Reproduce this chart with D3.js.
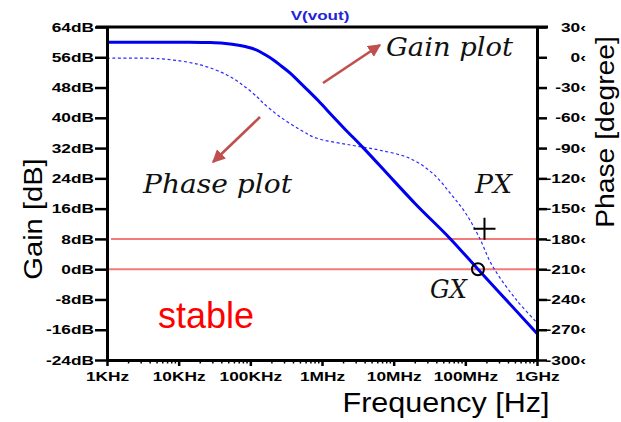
<!DOCTYPE html>
<html>
<head>
<meta charset="utf-8">
<script src="https://cdn.jsdelivr.net/npm/d3@7"></script>
<style>
  body { margin: 0; background: #fff; }
  svg { display: block; }
  .tick text { font-family: "Liberation Sans", Arial, sans-serif; font-weight: bold; font-size: 13px; fill: #000; }
  .note { font-family: "DejaVu Serif", "Liberation Serif", serif; font-style: italic; fill: #111; }
</style>
</head>
<body>
<script>
// gain curve (Hz, dB)
var gainFreq = [1e3, 4e3, 1.4e4, 2.5e4, 4.2e4, 7.2e4, 9.5e4, 1.23e5, 1.6e5, 2.1e5, 2.7e5, 3.6e5, 4.7e5, 6.1e5, 8.9e5, 1.4e6, 2e6, 3.8e6, 1e7, 2e7, 6.2e7, 1.5e8, 3e8, 1e9];
var gainDb   = [60, 60, 60, 59.9, 59.7, 59.1, 58.6, 57.9, 56.7, 55.3, 53.7, 51.8, 49.7, 47.6, 44.5, 40.5, 37.4, 32, 23.4, 17.3, 8, 0, -6.2, -17];

// phase curve (Hz, degree)
var phaseFreq = [1e3, 5.5e3, 2e4, 4.7e4, 8e4, 1.23e5, 1.52e5, 2.6e5, 5e5, 8.3e5, 2.5e6, 6.3e6, 1.66e7, 3.5e7, 6.2e7, 1e8, 1.55e8, 2.4e8, 5.1e8, 1e9];
var phaseDeg  = [-1, -1.5, -7.5, -17.5, -28, -39, -45.5, -59, -72, -80, -87, -92, -100, -115, -135, -154, -178, -207, -240, -263];

var freqTicks  = [1e3, 1e4, 1e5, 1e6, 1e7, 1e8, 1e9];
var freqLabels = ["1KHz", "10KHz", "100KHz", "1MHz", "10MHz", "100MHz", "1GHz"];
var gainTicks  = [64, 56, 48, 40, 32, 24, 16, 8, 0, -8, -16, -24];
var phaseTicks = [30, 0, -30, -60, -90, -120, -150, -180, -210, -240, -270, -300];
var limitLines = [8, 0];          // red reference lines, dB
var gxPoint = [1.5e8, 0];         // circle marker (Hz, dB)
var pxPoint = [1.85e8, -170];     // plus marker (Hz, degree)

var W = 621, H = 422;
var svg = d3.select("body").append("svg").attr("width", W).attr("height", H);

var x = d3.scaleLog().domain([1e3, 1e9]).range([107, 537]);
var yG = d3.scaleLinear().domain([-24, 64]).range([360, 27]);
var yP = d3.scaleLinear().domain([-300, 30]).range([360, 27]);

function stretch(sel, k) {
  sel.each(function () {
    var w = this.getComputedTextLength();
    d3.select(this).attr("textLength", w * k).attr("lengthAdjust", "spacingAndGlyphs");
  });
}

// red reference lines
svg.selectAll(".lim").data(limitLines).enter().append("line")
  .attr("x1", function (d) { return d == 0 ? x(1e3) : x(1e3) + 4; })
  .attr("x2", x(1e9))
  .attr("y1", function (d) { return yG(d); })
  .attr("y2", function (d) { return yG(d); })
  .attr("stroke", "#f47a7a").attr("stroke-width", 2);

// phase (thin dashed)
var phaseData = phaseFreq.map(function (f, i) { return [f, phaseDeg[i]]; });
svg.append("path").datum(phaseData)
  .attr("d", d3.line().x(function (d) { return x(d[0]); }).y(function (d) { return yP(d[1]); }).curve(d3.curveCatmullRom.alpha(0.5)))
  .attr("fill", "none").attr("stroke", "#2a2aff").attr("stroke-width", 1.2).attr("stroke-dasharray", "3,2.5");

// gain (thick)
var gainData = gainFreq.map(function (f, i) { return [f, gainDb[i]]; });
svg.append("path").datum(gainData)
  .attr("d", d3.line().x(function (d) { return x(d[0]); }).y(function (d) { return yG(d[1]); }).curve(d3.curveMonotoneX))
  .attr("fill", "none").attr("stroke", "#0000f0").attr("stroke-width", 3);

// axes
var gl = svg.append("g").attr("transform", "translate(107,0)")
  .call(d3.axisLeft(yG).tickValues(gainTicks).tickSize(12).tickSizeOuter(0).tickPadding(1)
    .tickFormat(function (d) { return d + "dB"; }));
var gr = svg.append("g").attr("transform", "translate(537,0)")
  .call(d3.axisRight(yP).tickValues(phaseTicks).tickSize(10).tickSizeOuter(0).tickPadding(2)
    .tickFormat(function (d) { return d + "\u2039"; }));
gr.selectAll(".tick text").attr("x", 49).attr("text-anchor", "end");
var gb = svg.append("g").attr("transform", "translate(0,360)")
  .call(d3.axisBottom(x).tickValues(freqTicks).tickSize(6).tickSizeOuter(0).tickPadding(6)
    .tickFormat(function (d, i) { return freqLabels[i]; }));

var minor = [];
freqTicks.slice(0, -1).forEach(function (f) { for (var k = 2; k < 10; k++) minor.push(f * k); });
svg.selectAll(".minor").data(minor).enter().append("line")
  .attr("x1", function (d) { return x(d); }).attr("x2", function (d) { return x(d); })
  .attr("y1", 360).attr("y2", 363.5).attr("stroke", "#000").attr("stroke-width", 1.5);

[gl, gr, gb].forEach(function (g) {
  g.select(".domain").attr("stroke", "#000").attr("stroke-width", 3);
  g.selectAll(".tick line").attr("stroke", "#000").attr("stroke-width", 2.5);
  stretch(g.selectAll(".tick text"), 1.33);
});

// top border
svg.append("line").attr("x1", 96).attr("x2", 548).attr("y1", 27).attr("y2", 27)
  .attr("stroke", "#000").attr("stroke-width", 3);

// titles
var t = svg.append("text").attr("x", 320).attr("y", 20).attr("text-anchor", "middle")
  .attr("font-family", "Liberation Sans, Arial, sans-serif").attr("font-weight", "bold")
  .attr("font-size", 12).attr("fill", "#2323d8").text("V(vout)");
stretch(t, 1.42);

t = svg.append("text").attr("x", 446).attr("y", 412).attr("text-anchor", "middle")
  .attr("font-family", "Liberation Sans, Arial, sans-serif").attr("font-size", 27).text("Frequency [Hz]");
stretch(t, 1.13);

t = svg.append("text").attr("transform", "translate(42,219) rotate(-90)").attr("text-anchor", "middle")
  .attr("font-family", "Liberation Sans, Arial, sans-serif").attr("font-size", 26).text("Gain [dB]");
stretch(t, 1.12);

t = svg.append("text").attr("transform", "translate(614,132) rotate(-90)").attr("text-anchor", "middle")
  .attr("font-family", "Liberation Sans, Arial, sans-serif").attr("font-size", 25).text("Phase [degree]");
stretch(t, 1.13);

// annotations
var notes = [["Gain plot", 386, 56, 127], ["Phase plot", 143, 193, 149], ["PX", 475, 193, 37], ["GX", 430, 298, 37]];
notes.forEach(function (n) {
  svg.append("text").attr("class", "note").attr("x", n[1]).attr("y", n[2])
    .attr("font-size", 26).attr("textLength", n[3]).attr("lengthAdjust", "spacingAndGlyphs").text(n[0]);
});

svg.append("text").attr("x", 158).attr("y", 328)
  .attr("font-family", "Liberation Sans, Arial, sans-serif").attr("font-size", 36)
  .attr("fill", "#ff0000").text("stable");

// arrows
svg.append("defs").append("marker").attr("id", "ah")
  .attr("viewBox", "0 0 10 10").attr("refX", 9).attr("refY", 5)
  .attr("markerWidth", 5).attr("markerHeight", 5).attr("orient", "auto")
  .append("path").attr("d", "M0,0L10,5L0,10z").attr("fill", "#c0504d");
var arrows = [[323, 83, 380, 45], [260, 117, 213, 162]];
svg.selectAll(".arr").data(arrows).enter().append("line")
  .attr("x1", function (d) { return d[0]; }).attr("y1", function (d) { return d[1]; })
  .attr("x2", function (d) { return d[2]; }).attr("y2", function (d) { return d[3]; })
  .attr("stroke", "#c0504d").attr("stroke-width", 2.6).attr("marker-end", "url(#ah)");

// markers
svg.append("circle").attr("cx", x(gxPoint[0])).attr("cy", yG(gxPoint[1])).attr("r", 6)
  .attr("fill", "none").attr("stroke", "#000").attr("stroke-width", 2);
var px = x(pxPoint[0]), py = yP(pxPoint[1]);
svg.append("path").attr("d", "M" + (px - 11) + "," + py + "h22M" + px + "," + (py - 11) + "v22")
  .attr("stroke", "#000").attr("stroke-width", 2);
</script>
</body>
</html>
